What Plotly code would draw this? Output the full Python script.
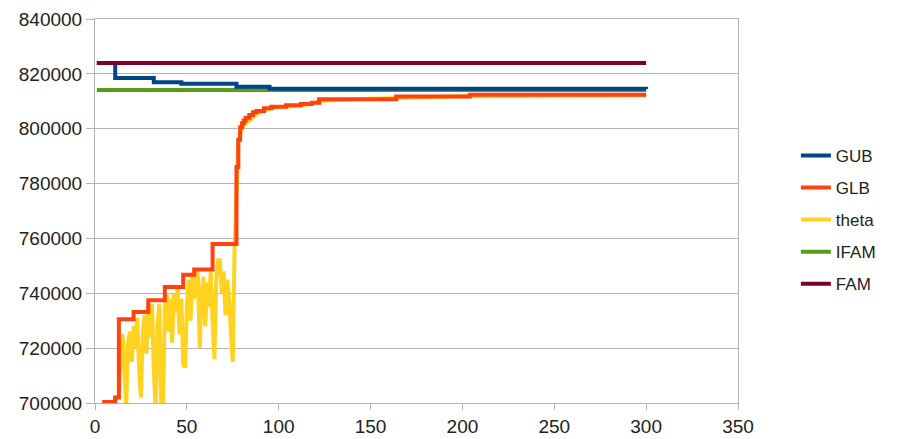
import plotly.graph_objects as go

# ---- data ----
gub_x = [1, 11, 32, 47, 77, 95, 300]
gub_y = [824000, 818500, 816900, 816400, 815300, 814600, 814500]

glb_x = [1, 5, 11, 13, 21, 29, 38, 48, 54, 64, 76, 77, 78, 79, 80, 81, 82, 84, 86,
         88, 92, 96, 104, 112, 118, 122, 164, 204, 300]
glb_y = [690000, 700400, 702000, 730500, 733200, 737500, 742300, 746800, 748700,
         758000, 758000, 786000, 796000, 800500, 802000, 803000, 804000, 805000,
         806000, 806500, 807500, 808000, 808600, 809000, 809500, 810700, 811700,
         812400, 812400]

theta_x = list(range(13, 78)) + [78, 79, 80, 82, 85, 88, 92, 96, 100, 106, 112,
                                 120, 125, 150, 200, 300]
theta_y = [702000, 718000, 725000, 712000, 699000, 722000, 726000, 715000, 728000,
           720000, 731000, 712000, 702000, 726000, 732000, 718000, 735000, 724000,
           736000, 712000, 698000, 728000, 736000, 699000, 698000, 735000, 740000,
           726000, 738000, 722000, 740000, 733000, 742000, 725000, 738000, 714000,
           713000, 735000, 745000, 730000, 747000, 738000, 748000, 747000, 720000,
           740000, 746000, 728000, 744000, 735000, 748000, 730000, 716000, 745000,
           752000, 752000, 740000, 748000, 732000, 745000, 738000, 725000, 715000,
           757000, 780000,
           795000, 798500, 800000, 802000, 803500, 805500, 806500, 807500, 807800,
           808000, 808500, 809500, 810300, 810900, 811800, 812200]

ifam_x = [1, 300]
ifam_y = [814100, 814100]

fam_x = [1, 300]
fam_y = [824000, 824000]

x_ticks = [0, 50, 100, 150, 200, 250, 300, 350]
y_ticks = [700000, 720000, 740000, 760000, 780000, 800000, 820000, 840000]

colors = {"GUB": "#004586", "GLB": "#ff420e", "theta": "#ffd320",
          "IFAM": "#579d1c", "FAM": "#7e0021"}

fig = go.Figure()
fig.add_trace(go.Scatter(x=theta_x, y=theta_y, name="theta", mode="lines",
                         line=dict(color=colors["theta"], width=4),
                         legendrank=3, legendgroup="theta"))
fig.add_trace(go.Scatter(x=glb_x, y=glb_y, name="GLB", mode="lines",
                         line=dict(color=colors["GLB"], width=4, shape="hv"),
                         legendrank=2, legendgroup="GLB"))
fig.add_trace(go.Scatter(x=ifam_x, y=ifam_y, name="IFAM", mode="lines",
                         line=dict(color=colors["IFAM"], width=4),
                         legendrank=4, legendgroup="IFAM"))
fig.add_trace(go.Scatter(x=gub_x, y=gub_y, name="GUB", mode="lines",
                         line=dict(color=colors["GUB"], width=4, shape="hv"),
                         legendrank=1, legendgroup="GUB"))
fig.add_trace(go.Scatter(x=fam_x, y=fam_y, name="FAM", mode="lines",
                         line=dict(color=colors["FAM"], width=4),
                         legendrank=5, legendgroup="FAM"))

fig.update_layout(
    width=896, height=431,
    margin=dict(l=87, r=166, t=11, b=36),
    paper_bgcolor="white", plot_bgcolor="white",
    font=dict(family="Liberation Sans, Arial, sans-serif", size=19, color="#222222"),
    showlegend=True,
    legend=dict(x=1.09, y=0.477, xanchor="left", yanchor="middle",
                font=dict(size=17, color="#222222"), tracegroupgap=7,
                itemwidth=30, borderwidth=0, bgcolor="rgba(0,0,0,0)"),
    xaxis=dict(range=[0, 350], tickvals=x_ticks, showgrid=False, automargin=False,
               showline=True, linecolor="#b3b3b3", linewidth=1, mirror=True,
               ticks="outside", ticklen=6, tickcolor="#b3b3b3", zeroline=False),
    yaxis=dict(range=[700000, 840000], tickvals=y_ticks, tickformat="d",
               automargin=False,
               showgrid=True, gridcolor="#b3b3b3", gridwidth=1,
               showline=True, linecolor="#b3b3b3", linewidth=1, mirror=True,
               ticks="outside", ticklen=8, tickcolor="#b3b3b3", zeroline=False),
)

fig.write_html("out.html")
